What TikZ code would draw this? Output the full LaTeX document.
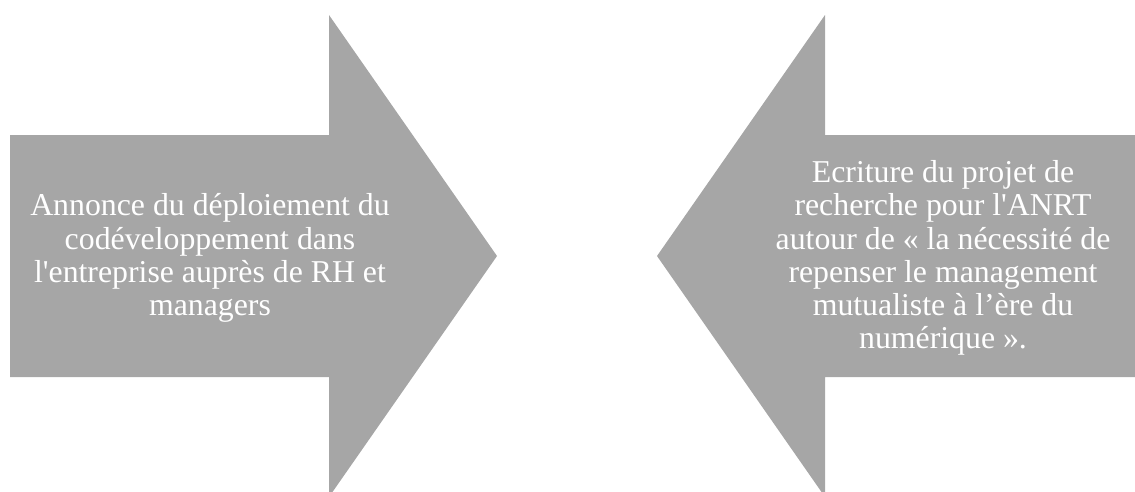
\documentclass[tikz,border=0pt]{standalone}
\usepackage{fontspec}
\setmainfont{Liberation Serif}[Ligatures=TeXOff]
\definecolor{arrowgray}{HTML}{A6A6A6}
\tikzset{
  arrowshape/.style={fill=arrowgray, draw=none},
  arrowtext/.style={text=white, align=center, inner sep=0pt,
    font=\fontsize{31.8}{33.2}\selectfont}
}
\begin{document}
\begin{tikzpicture}[x=1pt,y=-1pt]
\useasboundingbox (0,0) rectangle (1135,491);
\clip (0,0) rectangle (1135,491);
% left arrow (pointing right)
\fill[arrowshape] (10,135) -- (329,135) -- (329,15) -- (497,256) -- (329,497) -- (329,377) -- (10,377) -- cycle;
% right arrow (pointing left)
\fill[arrowshape] (1140,135) -- (825,135) -- (825,15) -- (657,256) -- (825,497) -- (825,377) -- (1140,377) -- cycle;
\node[arrowtext] (lefttext) at (210,258) {Annonce du déploiement du\\codéveloppement dans\\l'entreprise auprès de RH et\\managers};
\node[arrowtext] (righttext) at (943,258) {Ecriture du projet de\\recherche pour l'ANRT\\autour de « la nécessité de\\repenser le management\\mutualiste à l’ère du\\numérique ».};
\end{tikzpicture}
\end{document}
